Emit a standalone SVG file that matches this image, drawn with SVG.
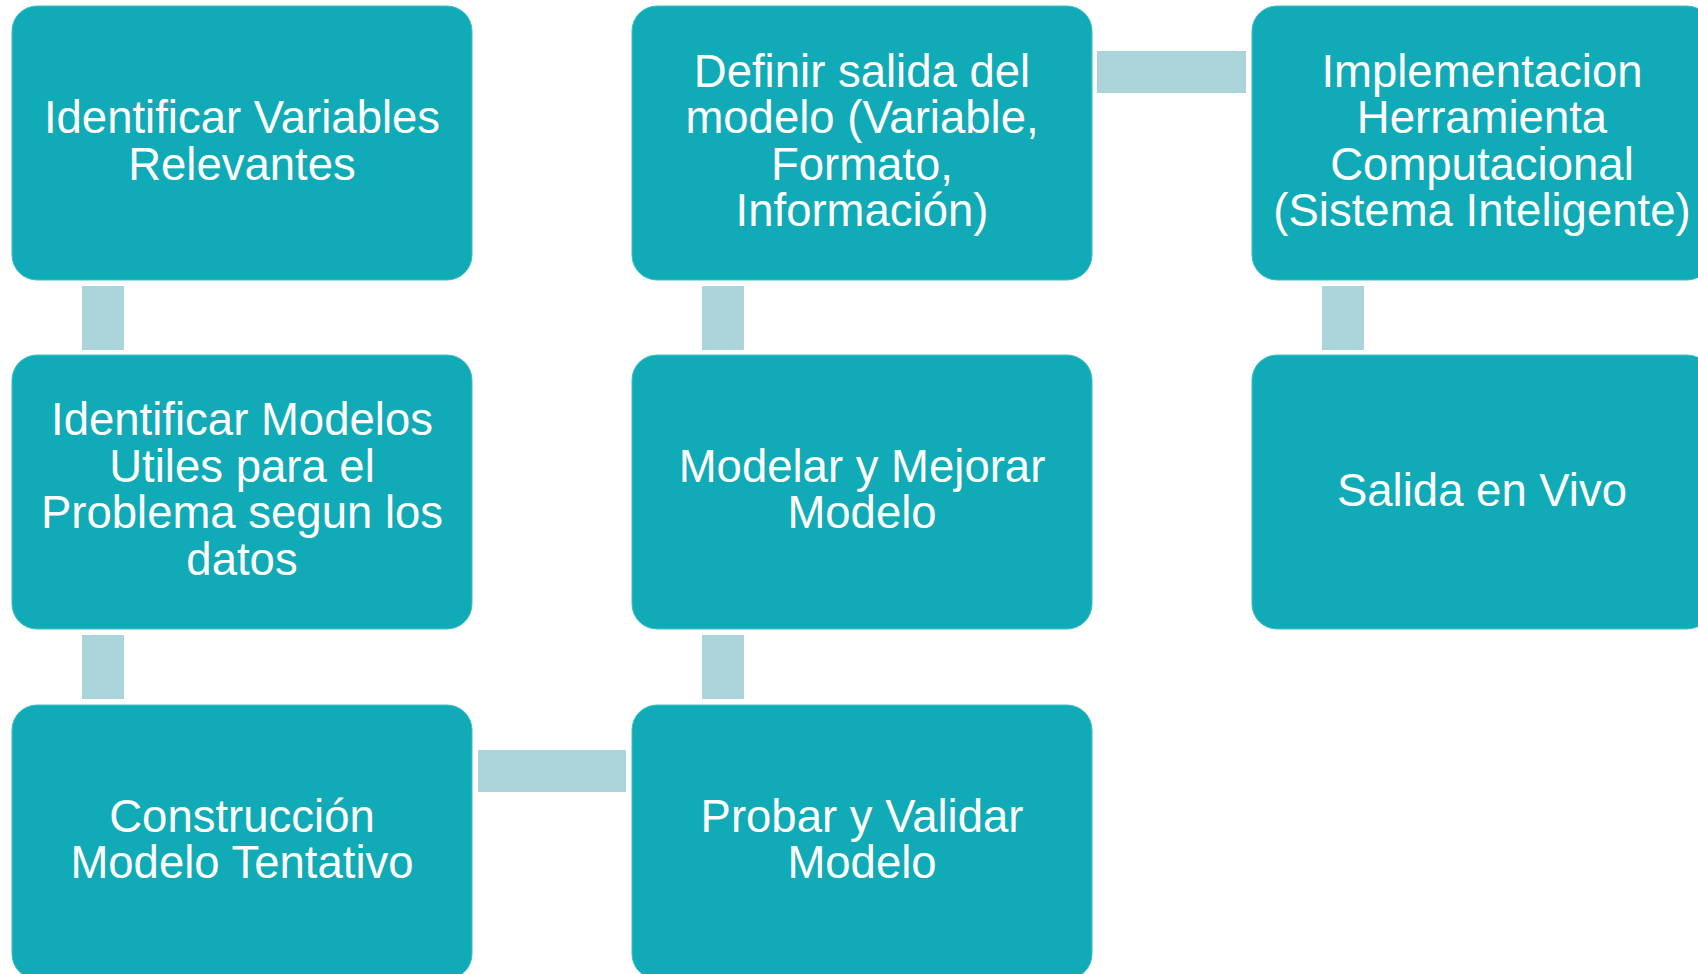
<svg xmlns="http://www.w3.org/2000/svg" width="1698" height="974" viewBox="0 0 1698 974">
<style>
.box{fill:#10abb6;stroke:#3ec0c8;stroke-width:1}
.con{fill:#abd3da}
text{font-family:"Liberation Sans",Arial,sans-serif;font-size:45.5px;fill:#ffffff;text-anchor:middle}
</style>
<rect width="1698" height="974" fill="#ffffff"/>
<g id="connectors">
<rect class="con" x="82" y="286" width="42" height="64"/>
<rect class="con" x="82" y="635" width="42" height="64"/>
<rect class="con" x="478" y="750" width="148" height="42"/>
<rect class="con" x="702" y="635" width="42" height="64"/>
<rect class="con" x="702" y="286" width="42" height="64"/>
<rect class="con" x="1097" y="51" width="149" height="42"/>
<rect class="con" x="1322" y="286" width="42" height="64"/>
</g>
<g id="n1">
<rect class="box" x="12" y="6" width="460" height="274" rx="25"/>
<text x="242" y="133">Identificar Variables</text>
<text x="242" y="180">Relevantes</text>
</g>
<g id="n2">
<rect class="box" x="12" y="355" width="460" height="274" rx="25"/>
<text x="242" y="435">Identificar Modelos</text>
<text x="242" y="482">Utiles para el</text>
<text x="242" y="528">Problema segun los</text>
<text x="242" y="575">datos</text>
</g>
<g id="n3">
<rect class="box" x="12" y="705" width="460" height="274" rx="25"/>
<text x="242" y="832">Construcción</text>
<text x="242" y="878">Modelo Tentativo</text>
</g>
<g id="n4">
<rect class="box" x="632" y="705" width="460" height="274" rx="25"/>
<text x="862" y="832">Probar y Validar</text>
<text x="862" y="878">Modelo</text>
</g>
<g id="n5">
<rect class="box" x="632" y="355" width="460" height="274" rx="25"/>
<text x="862" y="482">Modelar y Mejorar</text>
<text x="862" y="528">Modelo</text>
</g>
<g id="n6">
<rect class="box" x="632" y="6" width="460" height="274" rx="25"/>
<text x="862" y="87">Definir salida del</text>
<text x="862" y="133">modelo (Variable,</text>
<text x="862" y="180">Formato,</text>
<text x="862" y="226">Información)</text>
</g>
<g id="n7">
<rect class="box" x="1252" y="6" width="460" height="274" rx="25"/>
<text x="1482" y="87">Implementacion</text>
<text x="1482" y="133">Herramienta</text>
<text x="1482" y="180">Computacional</text>
<text x="1482" y="226">(Sistema Inteligente)</text>
</g>
<g id="n8">
<rect class="box" x="1252" y="355" width="460" height="274" rx="25"/>
<text x="1482" y="506">Salida en Vivo</text>
</g>
</svg>
